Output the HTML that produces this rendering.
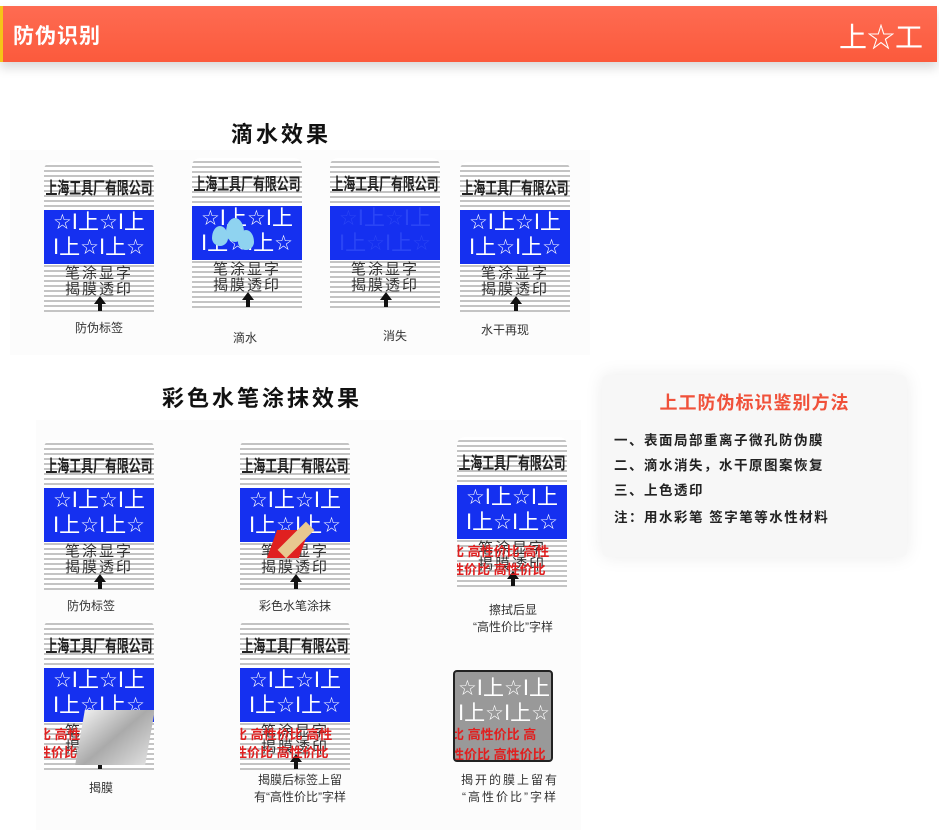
<!DOCTYPE html><html><head><meta charset="utf-8"><style>
*{margin:0;padding:0;box-sizing:border-box}
body{width:939px;height:832px;background:#fff;position:relative;overflow:hidden;font-family:"Liberation Sans","Noto Sans CJK SC",sans-serif}
.hdr{position:absolute;left:0;top:6px;width:937px;height:56px;background:linear-gradient(#fe6b52,#fb5a3c);border-left:3px solid #f5c518;box-shadow:0 6px 10px rgba(0,0,0,.15)}
.hdr .t{position:absolute;left:10px;top:14px;color:#fff;font-size:21px;font-weight:bold;letter-spacing:1px}
.hdr .l{position:absolute;right:14px;top:10px;color:#fff;font-size:28px}
.abs{position:absolute}
.card{position:absolute;width:110px;height:150px;border-radius:8px 8px 0 0;overflow:hidden;background:repeating-linear-gradient(#fff 0 3px,#c4c4c4 3px 5px)}
.co{position:absolute;left:-22px;top:12px;width:154px;text-align:center;font-size:17px;font-weight:bold;color:#222;transform:scaleX(.7);white-space:nowrap}
.blue{position:absolute;left:0;top:48px;width:110px;height:54px;background:#1530f0;color:#fff;font-size:21px;line-height:25px;overflow:hidden;white-space:nowrap;text-align:center;font-family:"DejaVu Sans","Noto Sans CJK SC",sans-serif}
.lo{position:absolute;left:0;top:104px;width:110px;text-align:center;font-size:15px;line-height:16px;color:#333;letter-spacing:2px}
.ar{position:absolute;left:50px;top:134px;width:0;height:0;border-left:6px solid transparent;border-right:6px solid transparent;border-bottom:8px solid #111}
.ar:after{content:"";position:absolute;left:-2px;top:7px;width:4px;height:8px;background:#111}
.red{position:absolute;left:-6px;width:130px;color:#e02020;font-size:13px;font-weight:bold;white-space:nowrap}
.lab{position:absolute;font-size:12px;color:#333;text-align:center;line-height:17px}
.h2{position:absolute;font-size:22px;font-weight:bold;color:#111;letter-spacing:3px}
.box{position:absolute;left:602px;top:375px;width:305px;height:182px;background:#f7f7f7;border-radius:6px;box-shadow:0 0 18px rgba(0,0,0,.08)}
.box .tt{position:absolute;left:0;width:305px;top:14px;text-align:center;color:#f0513a;font-size:18px;letter-spacing:1px;font-weight:bold}
.box p{position:absolute;left:12px;font-size:13.5px;color:#222;letter-spacing:1.5px;font-weight:bold}
</style></head><body>
<div class="hdr"><div class="t">防伪识别</div><div class="l">上☆工</div></div>

<div class="abs" style="left:10px;top:150px;width:580px;height:205px;background:#fcfcfc"></div>
<div class="abs" style="left:36px;top:420px;width:545px;height:410px;background:#fcfcfc"></div>

<div class="h2" style="left:231px;top:117px">滴水效果</div>

<div class="card" style="left:44px;top:162px"><div class="co">上海工具厂有限公司</div><div class="blue">☆I上☆I上<br>I上☆I上☆</div><div class="lo">笔涂显字<br>揭膜透印</div><div class="ar"></div></div>
<div class="lab" style="left:44px;top:320px;width:110px">防伪标签</div>

<div class="card" style="left:192px;top:158px"><div class="co">上海工具厂有限公司</div><div class="blue">☆I上☆I上<br>I上☆I上☆</div><div class="lo">笔涂显字<br>揭膜透印</div><div class="ar"></div>
<div class="abs" style="left:20px;top:68px;width:16px;height:20px;background:#8fd3f0;border-radius:50% 50% 50% 50%/60% 60% 40% 40%"></div>
<div class="abs" style="left:34px;top:60px;width:18px;height:24px;background:#8fd3f0;border-radius:50% 50% 50% 50%/60% 60% 40% 40%"></div>
<div class="abs" style="left:46px;top:72px;width:16px;height:20px;background:#8fd3f0;border-radius:50% 50% 50% 50%/60% 60% 40% 40%"></div></div>
<div class="lab" style="left:190px;top:330px;width:110px">滴水</div>

<div class="card" style="left:330px;top:158px"><div class="co">上海工具厂有限公司</div><div class="blue" style="color:#2a45f5">☆I上☆I上<br>I上☆I上☆</div><div class="lo">笔涂显字<br>揭膜透印</div><div class="ar"></div></div>
<div class="lab" style="left:340px;top:328px;width:110px">消失</div>

<div class="card" style="left:460px;top:162px"><div class="co">上海工具厂有限公司</div><div class="blue">☆I上☆I上<br>I上☆I上☆</div><div class="lo">笔涂显字<br>揭膜透印</div><div class="ar"></div></div>
<div class="lab" style="left:450px;top:322px;width:110px">水干再现</div>

<div class="h2" style="left:162px;top:381px">彩色水笔涂抹效果</div>

<div class="card" style="left:44px;top:440px"><div class="co">上海工具厂有限公司</div><div class="blue">☆I上☆I上<br>I上☆I上☆</div><div class="lo">笔涂显字<br>揭膜透印</div><div class="ar"></div></div>
<div class="lab" style="left:36px;top:598px;width:110px">防伪标签</div>

<div class="card" style="left:240px;top:440px"><div class="co">上海工具厂有限公司</div><div class="blue">☆I上☆I上<br>I上☆I上☆</div><div class="lo">笔涂显字<br>揭膜透印</div><div class="ar"></div>
<div class="abs" style="left:32px;top:90px;width:32px;height:28px;background:#e02020;transform:skew(-20deg)"></div>
<div class="abs" style="left:50px;top:80px;width:12px;height:40px;background:#e8c890;transform:rotate(45deg)"></div></div>
<div class="lab" style="left:240px;top:598px;width:110px">彩色水笔涂抹</div>

<div class="card" style="left:457px;top:437px"><div class="co">上海工具厂有限公司</div><div class="blue">☆I上☆I上<br>I上☆I上☆</div><div class="lo">笔涂显字<br>揭膜透印</div><div class="ar"></div>
<div class="red" style="top:104px">比 高性价比 高性</div><div class="red" style="top:122px">性价比 高性价比</div></div>
<div class="lab" style="left:453px;top:602px;width:120px">擦拭后显<br>“高性价比”字样</div>

<div class="card" style="left:44px;top:620px"><div class="co">上海工具厂有限公司</div><div class="blue">☆I上☆I上<br>I上☆I上☆</div><div class="lo">笔涂显字<br>揭膜透印</div><div class="ar"></div>
<div class="red" style="top:104px">比 高性价比 高性</div><div class="red" style="top:122px">性价比 高性价比</div>
<div class="abs" style="left:36px;top:90px;width:70px;height:55px;background:linear-gradient(135deg,#eee,#aaa,#ddd);transform:skew(-10deg)"></div></div>
<div class="lab" style="left:46px;top:780px;width:110px">揭膜</div>

<div class="card" style="left:240px;top:620px"><div class="co">上海工具厂有限公司</div><div class="blue">☆I上☆I上<br>I上☆I上☆</div><div class="lo">笔涂显字<br>揭膜透印</div><div class="ar"></div>
<div class="red" style="top:104px">比 高性价比 高性</div><div class="red" style="top:122px">性价比 高性价比</div></div>
<div class="lab" style="left:235px;top:772px;width:130px">揭膜后标签上留<br>有“高性价比”字样</div>

<div class="abs" style="left:453px;top:670px;width:100px;height:92px;background:#999;border:2px solid #222;border-radius:4px;overflow:hidden">
<div class="blue" style="top:4px;left:-6px;background:transparent;height:50px">☆I上☆I上<br>I上☆I上☆</div>
<div class="red" style="top:52px;left:-4px">比 高性价比 高</div><div class="red" style="top:72px;left:-4px">性价比 高性价比</div></div>
<div class="lab" style="left:445px;top:772px;width:130px;letter-spacing:2px">揭开的膜上留有<br>“高性价比”字样</div>

<div class="box"><div class="tt">上工防伪标识鉴别方法</div>
<p style="top:54px">一、表面局部重离子微孔防伪膜</p>
<p style="top:79px">二、滴水消失，水干原图案恢复</p>
<p style="top:104px">三、上色透印</p>
<p style="top:131px">注：用水彩笔 签字笔等水性材料</p></div>
</body></html>
